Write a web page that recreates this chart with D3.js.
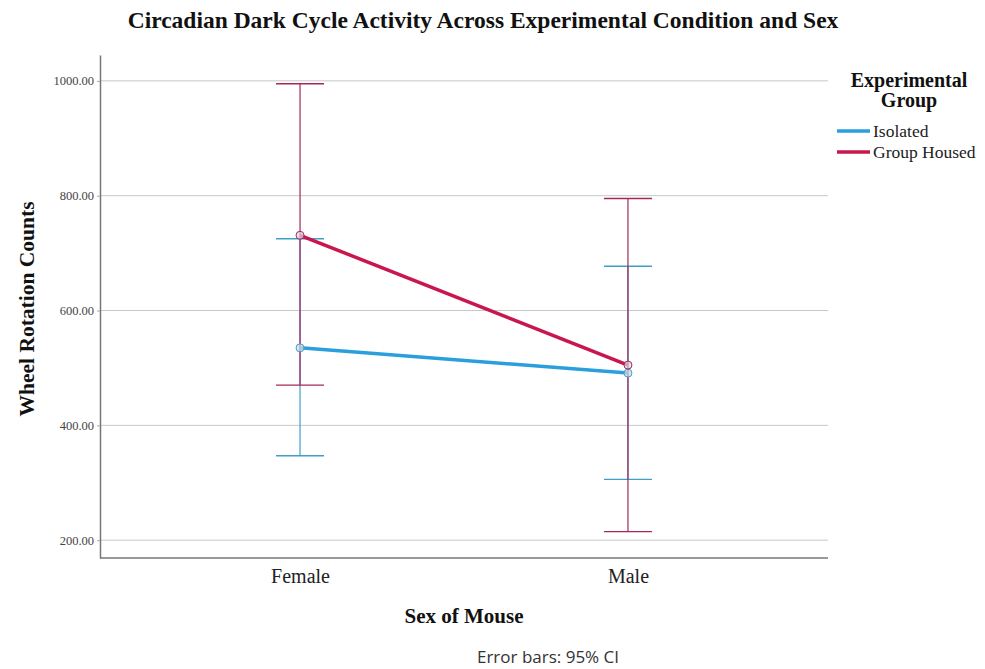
<!DOCTYPE html>
<html>
<head>
<meta charset="utf-8">
<script src="https://cdn.jsdelivr.net/npm/d3@7"></script>
<style>
  body { margin: 0; background: #fff; }
  text { font-family: "Liberation Serif", "Times New Roman", serif; }
</style>
</head>
<body>
<script>
// data
var sexes = ["Female", "Male"];
var groups = ["Isolated", "Group Housed"];
var isolatedMean = [535, 491];
var isolatedLow = [347, 306];
var isolatedHigh = [725, 677];
var housedMean = [731, 505];
var housedLow = [470, 215];
var housedHigh = [995, 795];
var yTicks = [200, 400, 600, 800, 1000];

var lineColors = ["#2a9fdc", "#c8174e"];
var barColors = ["#3f9fc8", "#a3285c"];

var chartWidth = 985, chartHeight = 669;
var plotLeft = 100, plotRight = 828, plotTop = 55, plotBottom = 558;

var svg = d3.select("body").append("svg")
    .attr("width", chartWidth)
    .attr("height", chartHeight);

var x = d3.scalePoint()
    .domain(sexes)
    .range([plotLeft, plotRight])
    .padding(0.61);

var y = d3.scaleLinear()
    .domain([169, 1045])
    .range([plotBottom, plotTop]);

// gridlines
svg.append("g").selectAll("line")
    .data(yTicks)
    .enter().append("line")
    .attr("x1", plotLeft)
    .attr("x2", plotRight)
    .attr("y1", function (d) { return y(d); })
    .attr("y2", function (d) { return y(d); })
    .attr("stroke", "#c8c8c8")
    .attr("stroke-width", 1);

// y axis
var yAxis = svg.append("g")
    .attr("transform", "translate(" + plotLeft + ",0)")
    .call(d3.axisLeft(y).tickValues(yTicks).tickSize(3).tickSizeOuter(0).tickPadding(3)
        .tickFormat(function (d) { return d3.format(".2f")(d); }));
yAxis.select(".domain").attr("stroke", "#777").attr("stroke-width", 1.5);
yAxis.selectAll(".tick line").attr("stroke", "#aaa");
yAxis.selectAll("text")
    .style("font-family", "Liberation Serif, serif")
    .style("font-size", "12.5px")
    .attr("fill", "#444");

// x axis
var xAxis = svg.append("g")
    .attr("transform", "translate(0," + plotBottom + ")")
    .call(d3.axisBottom(x).tickSize(0).tickPadding(11));
xAxis.select(".domain")
    .attr("d", "M" + plotLeft + ",0H" + plotRight)
    .attr("stroke", "#777").attr("stroke-width", 1.5);
xAxis.selectAll("text")
    .style("font-family", "Liberation Serif, serif")
    .style("font-size", "20px")
    .attr("fill", "#222");

var series = [
    { name: groups[0], mean: isolatedMean, low: isolatedLow, high: isolatedHigh },
    { name: groups[1], mean: housedMean, low: housedLow, high: housedHigh }
];

// error bars
var capHalf = 24;
series.forEach(function (s, si) {
    var g = svg.append("g");
    sexes.forEach(function (sex, i) {
        var cx = x(sex);
        g.append("line")
            .attr("x1", cx).attr("x2", cx)
            .attr("y1", y(s.low[i])).attr("y2", y(s.high[i]))
            .attr("stroke", barColors[si]).attr("stroke-width", 1.2);
        [s.low[i], s.high[i]].forEach(function (v) {
            g.append("line")
                .attr("x1", cx - capHalf).attr("x2", cx + capHalf)
                .attr("y1", y(v)).attr("y2", y(v))
                .attr("stroke", barColors[si]).attr("stroke-width", 1.4);
        });
    });
});

// mean lines
var line = d3.line()
    .x(function (d, i) { return x(sexes[i]); })
    .y(function (d) { return y(d); });
series.forEach(function (s, si) {
    svg.append("path")
        .datum(s.mean)
        .attr("d", line)
        .attr("fill", "none")
        .attr("stroke", lineColors[si])
        .attr("stroke-width", 3.5);
    svg.append("g").selectAll("circle")
        .data(s.mean)
        .enter().append("circle")
        .attr("cx", function (d, i) { return x(sexes[i]); })
        .attr("cy", function (d) { return y(d); })
        .attr("r", 4)
        .attr("fill", "#d8d8e0")
        .attr("fill-opacity", 0.7)
        .attr("stroke", barColors[si])
        .attr("stroke-width", 1);
});

// title
svg.append("text")
    .attr("x", 483).attr("y", 28)
    .attr("text-anchor", "middle")
    .style("font-size", "23.5px")
    .style("font-weight", "bold")
    .attr("fill", "#111")
    .text("Circadian Dark Cycle Activity Across Experimental Condition and Sex");

// axis titles
svg.append("text")
    .attr("transform", "translate(34,309) rotate(-90)")
    .attr("text-anchor", "middle")
    .style("font-size", "21.5px")
    .style("font-weight", "bold")
    .attr("fill", "#111")
    .text("Wheel Rotation Counts");

svg.append("text")
    .attr("x", 464).attr("y", 623)
    .attr("text-anchor", "middle")
    .style("font-size", "21px")
    .style("font-weight", "bold")
    .attr("fill", "#111")
    .text("Sex of Mouse");

svg.append("text")
    .attr("x", 548).attr("y", 663)
    .attr("text-anchor", "middle")
    .style("font-family", "Open Sans, sans-serif")
    .style("font-size", "17px")
    .attr("fill", "#333")
    .text("Error bars: 95% CI");

// legend
var legend = svg.append("g");
legend.append("text")
    .attr("x", 909).attr("y", 87)
    .attr("text-anchor", "middle")
    .style("font-size", "20px")
    .style("font-weight", "bold")
    .attr("fill", "#111")
    .text("Experimental");
legend.append("text")
    .attr("x", 909).attr("y", 107)
    .attr("text-anchor", "middle")
    .style("font-size", "20px")
    .style("font-weight", "bold")
    .attr("fill", "#111")
    .text("Group");
groups.forEach(function (g, i) {
    var ly = 131 + i * 21;
    legend.append("line")
        .attr("x1", 837).attr("x2", 870)
        .attr("y1", ly).attr("y2", ly)
        .attr("stroke", lineColors[i])
        .attr("stroke-width", 3.5);
    legend.append("text")
        .attr("x", 873).attr("y", ly + 5.5)
        .style("font-size", "17.5px")
        .attr("fill", "#222")
        .text(g);
});
</script>
</body>
</html>
